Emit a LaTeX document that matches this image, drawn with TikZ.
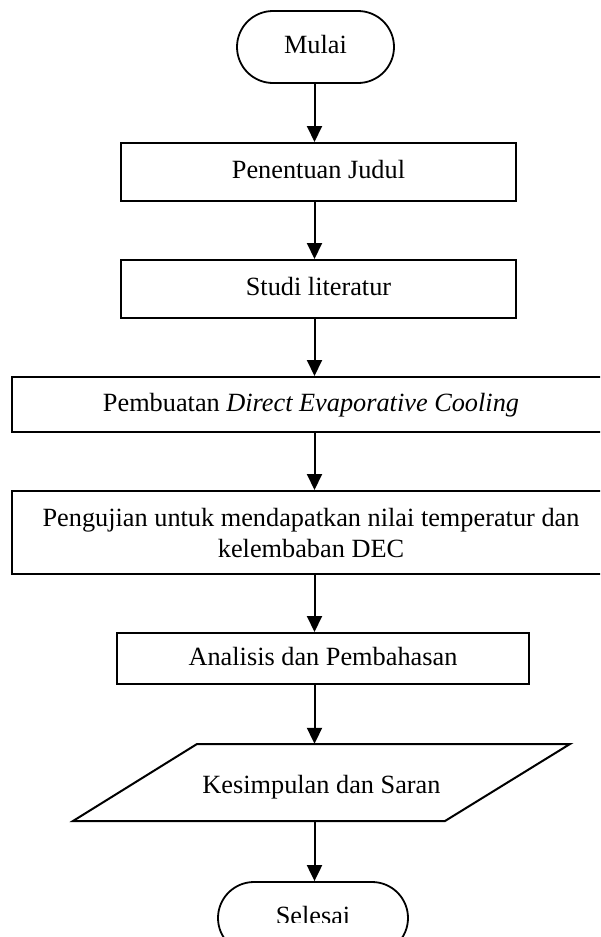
\documentclass[tikz,border=0pt]{standalone}
\usepackage{fontspec}
\setmainfont{Liberation Serif}
\usetikzlibrary{arrows.meta,shapes.misc}
\begin{document}
\begin{tikzpicture}[x=1pt,y=-1pt,
  txtbase/.style={font=\fontsize{26.3}{31}\selectfont, inner sep=0pt},
  txt/.style={txtbase, text height=18.7pt, text depth=5.7pt},
  box/.style={txt, draw, line width=2pt},
  term/.style={txt, rounded rectangle, draw, line width=1.8pt},
  arr/.style={line width=2pt, -{Triangle[length=16pt,width=15pt]}}]
\useasboundingbox (0,0) rectangle (600,937);
\path[clip] (0,0) rectangle (600,937);
\fill[white] (0,0) rectangle (600,937);
\coordinate (spine) at (314.5,0);

\node[term, minimum width=157pt, minimum height=72pt] (mulai) at (315.5,47) {Mulai};
\node[box, minimum width=395pt, minimum height=58pt] (judul) at (318.5,172) {Penentuan Judul};
\node[box, minimum width=395pt, minimum height=58pt] (studi) at (318.5,289) {Studi literatur};
\node[box, minimum width=598pt, minimum height=55pt] (buat) at (311,404.5) {Pembuatan \textit{Direct Evaporative Cooling}};
\node[txtbase, draw, line width=2pt, minimum width=598pt, minimum height=83pt, align=center] (uji) at (311,532.5) {Pengujian untuk mendapatkan nilai temperatur dan\\kelembaban DEC};
\node[box, minimum width=412pt, minimum height=51pt] (anal) at (323,658.5) {Analisis dan Pembahasan};
\node[txtbase, text height=26.7pt, text depth=5.7pt, minimum height=77pt] (kes) at (321.5,782.5) {Kesimpulan dan Saran};
\draw[line width=2pt, line join=miter] (73,821) -- (197,744) -- (570,744) -- (445,821) -- cycle;
\node[term, minimum width=190pt, minimum height=72pt] (selesai) at (313,918) {};
\begin{scope}
  \clip (0,0) rectangle (600,922);
  \node[txt] (selesaitext) at (selesai.center) {Selesai};
\end{scope}

\draw[arr] (mulai.south -| spine) -- (judul.north -| spine);
\draw[arr] (judul.south -| spine) -- (studi.north -| spine);
\draw[arr] (studi.south -| spine) -- (buat.north -| spine);
\draw[arr] (buat.south -| spine) -- (uji.north -| spine);
\draw[arr] (uji.south -| spine) -- (anal.north -| spine);
\draw[arr] (anal.south -| spine) -- (kes.north -| spine);
\draw[arr] (kes.south -| spine) -- (selesai.north -| spine);
\end{tikzpicture}
\end{document}
